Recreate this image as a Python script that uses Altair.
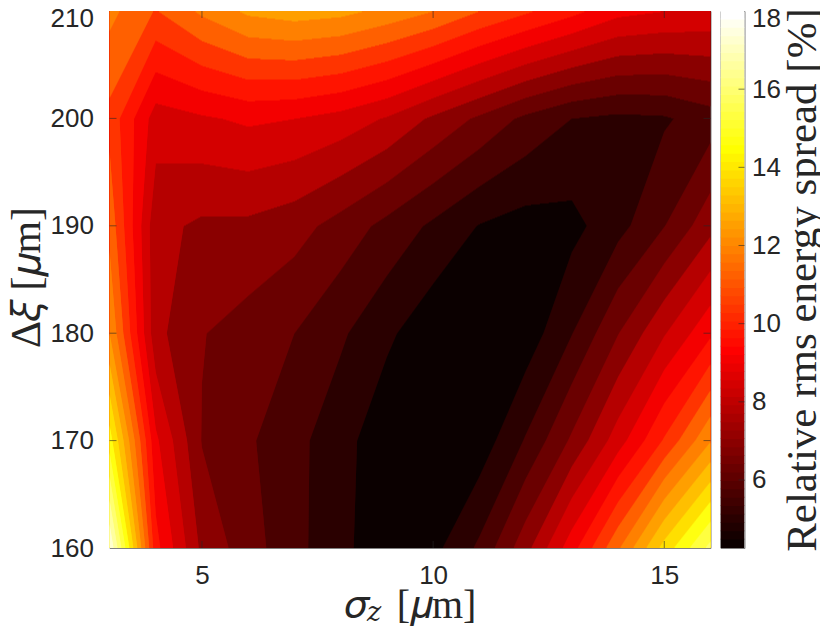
import altair as alt
import numpy as np
import pandas as pd

alt.data_transformers.disable_max_rows()

sigma_z = [3, 4, 5, 6, 7, 8, 9, 10, 11, 12, 13, 14, 15, 16]
delta_xi = [160, 170, 180, 190, 200, 210]
spread_160 = [18.00, 10.00, 7.52, 6.63, 5.84, 5.15, 4.43, 4.73, 5.76, 7.44, 9.46, 11.70, 14.13, 16.15]
spread_170 = [14.91, 9.21, 6.97, 6.42, 5.84, 5.21, 4.47, 4.29, 4.53, 5.69, 7.12, 8.73, 10.51, 12.44]
spread_180 = [12.50, 7.90, 7.04, 6.72, 6.32, 5.74, 5.08, 4.47, 4.33, 4.53, 5.60, 6.97, 8.31, 9.62]
spread_190 = [11.61, 7.90, 7.56, 7.54, 7.28, 6.73, 6.11, 5.50, 4.91, 4.66, 4.73, 5.39, 6.29, 7.47]
spread_200 = [10.92, 8.73, 8.97, 9.19, 9.07, 8.79, 8.31, 7.56, 6.87, 6.15, 5.63, 5.46, 5.54, 5.98]
spread_210 = [12.02, 11.08, 11.95, 12.64, 12.85, 12.71, 12.30, 11.82, 11.13, 10.55, 9.96, 9.28, 9.07, 8.93]
spread_rows = [spread_160, spread_170, spread_180, spread_190, spread_200, spread_210]

spread_min = 4.26
spread_max = 18.0
n_bands = 20
n_colors = 64
x_ticks = [5, 10, 15]
y_ticks = [160, 170, 180, 190, 200, 210]
c_ticks = [6, 8, 10, 12, 14, 16, 18]

PLOT_W, PLOT_H = 601, 537
TEXT = "#262626"
FRAME = "#808080"
SERIF = "Liberation Serif, DejaVu Serif"
SANS = "Liberation Sans"


def hot(i):
    r = min((i + 1) / 24, 1)
    g = min(max((i + 1 - 24) / 24, 0), 1)
    b = min(max((i + 1 - 48) / 16, 0), 1)
    return "#%02x%02x%02x" % (round(r * 255), round(g * 255), round(b * 255))


step = (spread_max - spread_min) / n_bands
levels = [spread_min + k * step for k in range(n_bands + 1)]
colors = [hot(int(k / n_bands * n_colors)) for k in range(n_bands)]
color_scale = alt.Scale(type="threshold", domain=levels[1:n_bands], range=colors)
Z = np.array(spread_rows)


def clip_cell(xs, ys, zs, level):
    pts = []
    for i in range(4):
        j = (i + 1) % 4
        if zs[i] >= level:
            pts.append((xs[i], ys[i]))
        if (zs[i] >= level) != (zs[j] >= level):
            t = (level - zs[i]) / (zs[j] - zs[i])
            pts.append((xs[i] + t * (xs[j] - xs[i]), ys[i] + t * (ys[j] - ys[i])))
    return pts


def span_at(pts, y):
    hits = []
    n = len(pts)
    for i in range(n):
        x0, y0 = pts[i]
        x1, y1 = pts[(i + 1) % n]
        if (y0 <= y <= y1) or (y1 <= y <= y0):
            if y1 == y0:
                hits += [x0, x1]
            else:
                hits.append(x0 + (y - y0) / (y1 - y0) * (x1 - x0))
    return (min(hits), max(hits)) if hits else None


records = [(sigma_z[0], sigma_z[-1], delta_xi[0], delta_xi[-1], round(levels[0] + step / 2, 3), -1)]
edges = np.linspace(delta_xi[0], delta_xi[-1], PLOT_H + 1)
row_h = edges[1] - edges[0]
for r in range(len(delta_xi) - 1):
    polys = {}
    for k, lv in enumerate(levels[:n_bands]):
        if k == 0:
            continue
        cell_polys = []
        for c in range(len(sigma_z) - 1):
            xs = [sigma_z[c], sigma_z[c + 1], sigma_z[c + 1], sigma_z[c]]
            ys = [delta_xi[r], delta_xi[r], delta_xi[r + 1], delta_xi[r + 1]]
            zs = [Z[r, c], Z[r, c + 1], Z[r + 1, c + 1], Z[r + 1, c]]
            p = clip_cell(xs, ys, zs, lv)
            if len(p) >= 3:
                cell_polys.append(p)
        polys[k] = cell_polys
    for i in range(PLOT_H):
        ym = 0.5 * (edges[i] + edges[i + 1])
        if not (delta_xi[r] <= ym < delta_xi[r + 1]):
            continue
        for k in range(1, n_bands):
            spans = [s for s in (span_at(p, ym) for p in polys[k]) if s]
            spans.sort()
            merged = []
            for a, b in spans:
                if merged and a <= merged[-1][1] + 1e-6:
                    merged[-1][1] = max(merged[-1][1], b)
                else:
                    merged.append([a, b])
            for a, b in merged:
                records.append((round(a, 4), round(b, 4),
                                round(edges[i] - 0.4 * row_h, 4), round(edges[i + 1] + 0.4 * row_h, 4),
                                round(levels[k] + step / 2, 3), k))

df = pd.DataFrame(records, columns=["x0", "x1", "y0", "y1", "spread", "order"])
df = df.sort_values(["order"], kind="stable")

x_scale = alt.Scale(domain=[sigma_z[0], sigma_z[-1]], nice=False, zero=False)
y_scale = alt.Scale(domain=[delta_xi[0], delta_xi[-1]], nice=False, zero=False)
x_axis = alt.Axis(
    values=x_ticks, title="𝜎\u2002\u2009[𝜇m]", grid=False, ticks=False, domain=False,
    labelFont=SANS, labelFontSize=26, labelColor=TEXT, labelPadding=14,
    titleY=69, titleBaseline="alphabetic",
    titleFont=SERIF, titleFontSize=40, titleFontWeight="normal", titleColor=TEXT)
y_axis = alt.Axis(
    values=y_ticks, title="Δ𝜉 [𝜇m]", grid=False, ticks=False, domain=False,
    labelFont=SANS, labelFontSize=26, labelColor=TEXT, labelPadding=16,
    labelOffset=alt.ExprRef("datum.value == 210 ? 7 : 0"),
    titleY=266,
    titleFont=SERIF, titleFontSize=42, titleFontWeight="normal", titleColor=TEXT, titlePadding=2)

contours = alt.Chart(df).mark_rect(clip=True, stroke=None).encode(
    x=alt.X("x0:Q", scale=x_scale, axis=x_axis),
    x2="x1:Q",
    y=alt.Y("y0:Q", scale=y_scale, axis=y_axis),
    y2="y1:Q",
    color=alt.Color("spread:Q", scale=color_scale, legend=None),
    order=alt.Order("order:Q"),
)

xt = pd.DataFrame({"t": x_ticks})
yt = pd.DataFrame({"t": y_ticks[1:-1]})
rule = dict(color=TEXT, strokeWidth=0.6)
tick_bottom = alt.Chart(xt).mark_rule(**rule).encode(
    x=alt.X("t:Q", scale=x_scale, axis=x_axis), y=alt.value(PLOT_H), y2=alt.value(PLOT_H - 7))
tick_top = alt.Chart(xt).mark_rule(**rule).encode(
    x=alt.X("t:Q", scale=x_scale, axis=x_axis), y=alt.value(0), y2=alt.value(7))
tick_left = alt.Chart(yt).mark_rule(**rule).encode(
    y=alt.Y("t:Q", scale=y_scale, axis=y_axis), x=alt.value(0), x2=alt.value(7))
tick_right = alt.Chart(yt).mark_rule(**rule).encode(
    y=alt.Y("t:Q", scale=y_scale, axis=y_axis), x=alt.value(PLOT_W), x2=alt.value(PLOT_W - 7))
subscript = alt.Chart(pd.DataFrame({"s": ["𝑧"]})).mark_text(
    font=SERIF, fontSize=27, color=TEXT, align="center", baseline="alphabetic").encode(
    text="s:N", x=alt.value(264.5), y=alt.value(PLOT_H + 73))

main = alt.layer(contours, tick_bottom, tick_top, tick_left, tick_right, subscript).properties(
    width=PLOT_W, height=PLOT_H)

bar_step = (spread_max - spread_min) / n_colors
bar_levels = [spread_min + k * bar_step for k in range(n_colors + 1)]
bands = pd.DataFrame({
    "low": bar_levels[:-1],
    "high": [v + 0.02 for v in bar_levels[1:]],
    "shade": [hot(i) for i in range(n_colors)],
})
c_scale = alt.Scale(domain=[spread_min, spread_max], nice=False, zero=False)
c_axis = alt.Axis(
    orient="right", values=c_ticks, title="Relative rms energy spread [%]", grid=False, ticks=False, domain=False,
    labelFont=SANS, labelFontSize=26, labelColor=TEXT, labelPadding=7,
    labelOffset=alt.ExprRef("datum.value == 18 ? 7 : 0"),
    titleAngle=270, titleBaseline="alphabetic", titleX=71,
    titleFont=SERIF, titleFontSize=43, titleFontWeight="normal", titleColor=TEXT)
bar = alt.Chart(bands).mark_rect(stroke=None, clip=True).encode(
    y=alt.Y("low:Q", scale=c_scale, axis=c_axis),
    y2="high:Q",
    color=alt.Color("shade:N", scale=None, legend=None),
)
ct = pd.DataFrame({"t": c_ticks[:-1]})
bar_ticks = alt.Chart(ct).mark_rule(**rule).encode(
    y=alt.Y("t:Q", scale=c_scale, axis=c_axis), x=alt.value(24), x2=alt.value(18))
colorbar = alt.layer(bar, bar_ticks).properties(width=24, height=PLOT_H)

chart = alt.hconcat(main, colorbar, spacing=8).configure_view(stroke=FRAME, strokeWidth=1).properties(
    padding={"left": -3.5, "top": -4, "right": -6, "bottom": -1}, background="white")

chart.save("out.html", embed_options={"renderer": "svg", "actions": False})
